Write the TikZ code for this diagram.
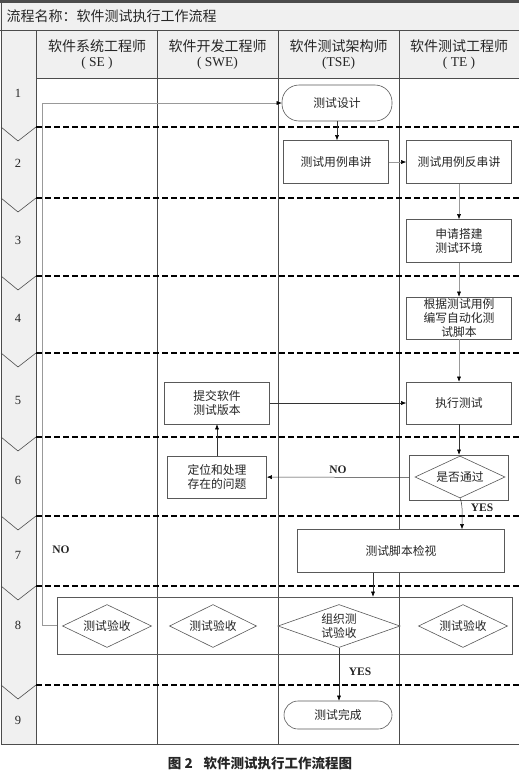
\documentclass[tikz,border=0pt]{standalone}
\usepackage{fontspec}
\setmainfont{Liberation Serif}
\newfontfamily\cjk{Noto Sans CJK SC}
\usetikzlibrary{arrows.meta,shapes.geometric}

\begin{document}
\begin{tikzpicture}[x=1pt,y=-1pt,
    grid/.style={draw=gray!60!black, line width=0.6pt},
    stage/.style={black, line width=1.6pt, dash pattern=on 6pt off 3pt},
    proc/.style={draw=gray!70!black, fill=white, line width=0.6pt, minimum width=105pt, minimum height=43pt,
      align=center, inner sep=1pt, text=black!85, font=\cjk\fontsize{11.8}{13.6}\selectfont},
    term/.style={proc, rounded corners=17pt},
    dec/.style={proc, diamond, aspect=2, minimum width=89pt, minimum height=43pt, inner sep=0pt},
    head/.style={align=center, text=black!85, font=\fontsize{13.5}{15}\selectfont},
    lab/.style={text=black!85, font=\bfseries\fontsize{11.5}{12}\selectfont},
    arr/.style={draw=black!80, line width=0.5pt, -{Latex[length=5pt,width=4pt,color=black]}},
    arrg/.style={arr, draw=gray!80}]
  \useasboundingbox (0,0) rectangle (519,774);
  % frame and lanes
  \fill[gray!12] (0,2) rectangle (519,30);
  \fill[gray!12] (36,30) rectangle (519,78);
  \fill[gray!12] (1,30) rectangle (36,744);
  \draw[line width=3pt, gray!60!black] (0,1.5) -- (519,1.5);
  \draw[grid] (1,2) -- (1,744) -- (519,744);
  \draw[grid] (0,30) -- (519,30);\draw[grid] (36,78) -- (519,78);
  \foreach \x in {36,157,278,399} \draw[grid] (\x,30) -- (\x,744);
  \foreach \y in {127,198,276,353,437,516,586,685} {
    \draw[stage] (36,\y) -- (519,\y);
    \draw[grid] (1,\y) -- (18,\y+14) -- (36,\y);
  }
  \foreach \n/\y in {1/93,2/163,3/240,4/318,5/400,6/480,7/555,8/625,9/720}
    \node[text=black!85, font=\fontsize{12.5}{13}\selectfont] (step\n) at (18,\y) {\n};
  % titles
  \node[anchor=west, text=black!85, font=\cjk\fontsize{14}{15}\selectfont] (title) at (3,16) {流程名称：软件测试执行工作流程};
  \node[head] (hse) at (97,55) {{\cjk\fontsize{14}{15}\selectfont 软件系统工程师}\\( SE )};
  \node[head] (hswe) at (217.5,55) {{\cjk\fontsize{14}{15}\selectfont 软件开发工程师}\\( SWE)};
  \node[head] (htse) at (338.5,55) {{\cjk\fontsize{14}{15}\selectfont 软件测试架构师}\\(TSE)};
  \node[head] (hte) at (459,55) {{\cjk\fontsize{14}{15}\selectfont 软件测试工程师}\\( TE )};
  % steps
  \node[term, minimum width=110pt, minimum height=36pt] (design) at (337,103) {测试设计};
  \node[proc] (brief) at (336,162) {测试用例串讲};
  \node[proc] (rebrief) at (459,162) {测试用例反串讲};
  \node[proc] (env) at (459,241) {申请搭建\\测试环境};
  \node[proc, minimum height=42pt] (script) at (459,318) {根据测试用例\\编写自动化测\\试脚本};
  \node[proc, minimum height=42pt] (submit) at (217,403) {提交软件\\测试版本};
  \node[proc, minimum height=42pt] (exec) at (459,403) {执行测试};
  \node[proc, minimum width=99pt, minimum height=45pt] (passbox) at (459,477.5) {};
  \node[dec, minimum width=90pt, minimum height=42pt] (pass) at (460,477) {是否通过};
  \node[proc, minimum width=99pt, minimum height=42pt] (locate) at (217,477) {定位和处理\\存在的问题};
  \node[proc, minimum width=207pt] (review) at (401,551) {测试脚本检视};
  \node[draw=gray!70!black, line width=0.6pt, minimum width=455pt, minimum height=57pt, inner sep=0pt] (accbox) at (284.5,625.5) {};
  \node[dec] (acc1) at (107,626) {测试验收};
  \node[dec, minimum width=87pt] (acc2) at (213,626) {测试验收};
  \node[dec, minimum width=122pt] (org) at (339,626) {组织测\\试验收};
  \node[dec] (acc4) at (463,626) {测试验收};
  \node[term, minimum width=108pt, minimum height=28pt, rounded corners=14pt] (done) at (338,715) {测试完成};
  % connectors
  \draw[arr] (design.south) -- (design.south |- brief.north);
  \draw[arrg] (brief) -- (rebrief);
  \draw[arrg] (rebrief) -- (env);
  \draw[arrg] (env) -- (script);
  \draw[arrg] (script) -- (exec);
  \draw[arr] (submit) -- (exec);
  \draw[arr] (exec) -- (passbox);
  \draw[arr] (passbox) -- node[lab, above] (no1) {NO} (locate);
  \draw[arr] (locate) -- (submit);
  \draw[arr] (pass.south) .. controls ++(3,6) and ++(0,-12) .. ([xshift=2pt]pass.south |- review.north);
  \node[lab] (yes1) at (482,508) {YES};
  \draw[arr] ([xshift=-28pt]review.south) -- ([xshift=-28pt]review.south |- accbox.north);
  \draw[arrg] (accbox.west) -- ++(-14,0) |- (design.west);
  \node[lab] (no2) at (61,550) {NO};
  \draw[arr] (org.south) -- (org.south |- done.north);
  \node[lab] (yes2) at (360,672) {YES};
  % caption
  \node[text=black!85, font=\cjk\bfseries\fontsize{13.5}{14}\selectfont] (cap) at (260,763) {图 2\hspace{0.8em}软件测试执行工作流程图};
\end{tikzpicture}
\end{document}
